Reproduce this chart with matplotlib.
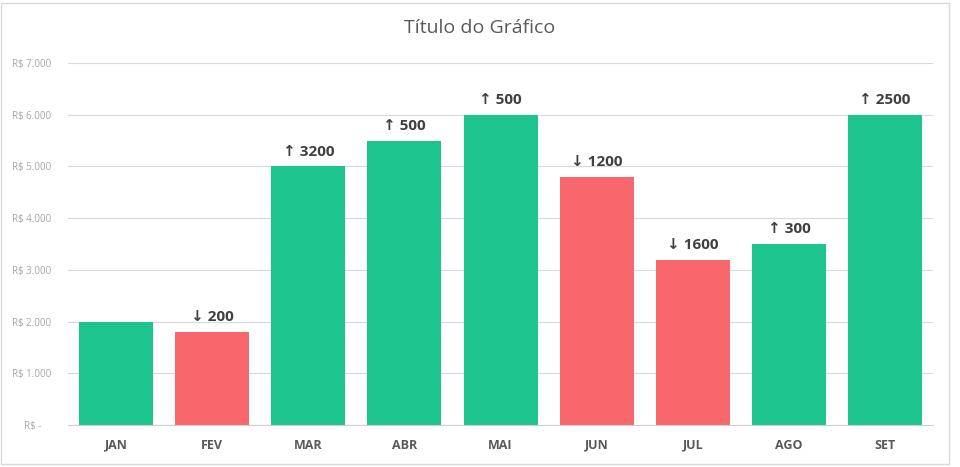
import matplotlib.pyplot as plt
import numpy as np
from matplotlib.patches import Rectangle

meses = ["JAN", "FEV", "MAR", "ABR", "MAI", "JUN", "JUL", "AGO", "SET"]
valores = [2000, 1800, 5000, 5500, 6000, 4800, 3200, 3500, 6000]
ticks = [0, 1000, 2000, 3000, 4000, 5000, 6000, 7000]
tick_labels = ["R$ -    ", "R$ 1.000", "R$ 2.000", "R$ 3.000", "R$ 4.000",
               "R$ 5.000", "R$ 6.000", "R$ 7.000"]

verde = "#1DC48D"
vermelho = "#F8676B"

plt.rcParams['font.family'] = ['Open Sans', 'DejaVu Sans']

fig = plt.figure(figsize=(9.6, 4.67), dpi=100)
ax = fig.add_axes([0.0708, 0.090, 0.9012, 0.775])

x = np.arange(len(meses))
cores = [verde] + [verde if valores[i] >= valores[i - 1] else vermelho for i in range(1, len(valores))]
ax.bar(x, valores, width=0.77, color=cores, zorder=2)

# variacao em relacao ao mes anterior
for i in range(1, len(valores)):
    dif = valores[i] - valores[i - 1]
    seta = "↑" if dif >= 0 else "↓"
    ax.text(x[i], valores[i] + 150, f"{seta} {abs(dif)}", ha="center", va="bottom",
            fontsize=11, fontweight="bold", color="#404040")

ax.set_xlim(-0.5, len(meses) - 0.5)
ax.set_ylim(0, 7000)
ax.set_yticks(ticks)
ax.set_yticklabels(tick_labels, fontsize=7, color="#A6A6A6")
ax.set_xticks(x)
ax.set_xticklabels(meses, fontsize=9, fontweight="bold", color="#595959")
ax.tick_params(axis="y", length=0, pad=12)
ax.tick_params(axis="x", length=0, pad=10)
ax.grid(axis="y", color="#D9D9D9", linewidth=0.8, zorder=0)
for s in ["top", "right", "left"]:
    ax.spines[s].set_visible(False)
ax.spines["bottom"].set_color("#D0D0D0")

fig.text(0.5, 0.94, "Título do Gráfico", ha="center", va="center", fontsize=14, color="#595959")

fig.patches.append(Rectangle((0.001, 0.006), 0.988, 0.988, transform=fig.transFigure,
                             fill=False, edgecolor="#D9D9D9", linewidth=1))

fig.savefig("out.png", dpi=100)
